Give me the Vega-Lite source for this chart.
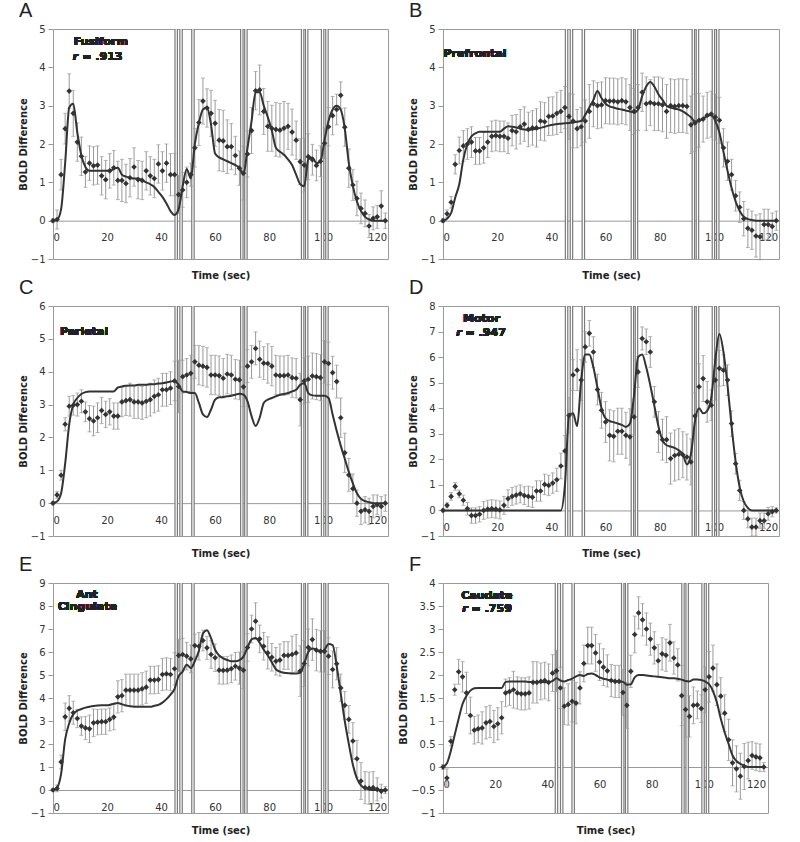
{
"$schema":"https://vega.github.io/schema/vega-lite/v6.json",
"padding":{"left":17,"top":0,"right":5,"bottom":5},
"background":"white",
"config":{
 "view":{"stroke":"#9a9a9a","strokeWidth":1},
 "font":"DejaVu Sans",
 "axis":{"labelFont":"DejaVu Sans","labelFontSize":10,"labelColor":"#333","labelOverlap":false,"titleFont":"DejaVu Sans","titleFontSize":10,"titleFontWeight":"bold","titleColor":"#222","domainColor":"#9a9a9a","tickColor":"#9a9a9a","grid":false},
 "axisY":{"labelOverlap":false,"labelBound":false,"tickCount":20},
 "title":{"font":"Liberation Sans","fontSize":20,"fontWeight":"normal","anchor":"start","frame":"group","dx":-34,"offset":3,"baseline":"alphabetic","color":"#222"}
},
"spacing":{"column":8,"row":-5},
"columns":2,
"datasets":{
"ev":[{"t":45.6},{"t":47.4},{"t":51.8},{"t":69.9},{"t":71.4},{"t":92.4},{"t":93.9},{"t":99.8},{"t":101.4}],
"evF":[{"t":43.5},{"t":45.5},{"t":49.9},{"t":68.9},{"t":70.4},{"t":92.0},{"t":93.6},{"t":99.7},{"t":101.4}],
"A":[
{"t":0,"y":0,"e":0.05,"m":0},{"t":1.5,"y":0.03,"e":0.25,"m":0.02},{"t":3,"y":1.2,"e":0.4,"m":0.3},{"t":4.5,"y":2.4,"e":0.4,"m":1.5},{"t":6,"y":3.38,"e":0.45,"m":2.95},{"t":7.5,"y":2.8,"e":0.6,"m":3.05},{"t":9,"y":2.05,"e":0.5,"m":2.3},{"t":10.5,"y":1.68,"e":0.5,"m":1.7},{"t":12,"y":1.27,"e":0.4,"m":1.4},{"t":13.5,"y":1.5,"e":0.45,"m":1.3},
{"t":15,"y":1.43,"e":0.5,"m":1.3},{"t":16.5,"y":1.45,"e":0.5,"m":1.3},{"t":18,"y":1.17,"e":0.5,"m":1.3},{"t":19.5,"y":1.07,"e":0.5,"m":1.3},{"t":21,"y":1.3,"e":0.45,"m":1.3},{"t":22.5,"y":1.38,"e":0.45,"m":1.35},{"t":24,"y":1.05,"e":0.5,"m":1.38},{"t":25.5,"y":1.05,"e":0.55,"m":1.2},{"t":27,"y":0.97,"e":0.5,"m":1.15},{"t":28.5,"y":1.12,"e":0.5,"m":1.12},
{"t":30,"y":1.4,"e":0.5,"m":1.1},{"t":31.5,"y":1.07,"e":0.5,"m":1.1},{"t":33,"y":1.05,"e":0.5,"m":1.05},{"t":34.5,"y":1.3,"e":0.5,"m":1.0},{"t":36,"y":1.17,"e":0.5,"m":0.95},{"t":37.5,"y":1.1,"e":0.5,"m":0.88},{"t":39,"y":1.48,"e":0.5,"m":0.75},{"t":40.5,"y":1.3,"e":0.5,"m":0.62},{"t":42,"y":1.5,"e":0.5,"m":0.45},{"t":43.5,"y":1.2,"e":0.55,"m":0.25},
{"t":45,"y":1.2,"e":0.55,"m":0.15},{"t":46.5,"y":0.68,"e":0.5,"m":0.3},{"t":48,"y":0.8,"e":0.45,"m":0.9},{"t":49.5,"y":1.0,"e":0.4,"m":1.35},{"t":51,"y":1.2,"e":0.3,"m":1.1},{"t":52.5,"y":1.9,"e":0.5,"m":2.0},{"t":54,"y":2.56,"e":0.6,"m":2.55},{"t":55.5,"y":3.12,"e":0.6,"m":2.9},{"t":57,"y":2.94,"e":0.5,"m":2.95},{"t":58.5,"y":2.8,"e":0.6,"m":2.5},
{"t":60,"y":2.54,"e":0.6,"m":1.75},{"t":61.5,"y":2.1,"e":0.8,"m":1.65},{"t":63,"y":2.08,"e":0.8,"m":1.6},{"t":64.5,"y":1.93,"e":0.7,"m":1.55},{"t":66,"y":1.93,"e":0.6,"m":1.5},{"t":67.5,"y":1.7,"e":0.5,"m":1.45},{"t":69,"y":1.37,"e":0.45,"m":1.38},{"t":70.5,"y":1.24,"e":0.7,"m":1.2},{"t":72,"y":1.74,"e":0.6,"m":1.9},{"t":73.5,"y":2.35,"e":0.6,"m":2.6},
{"t":75,"y":3.39,"e":0.5,"m":3.35},{"t":76.5,"y":3.41,"e":0.65,"m":3.35},{"t":78,"y":2.85,"e":0.6,"m":3.0},{"t":79.5,"y":2.46,"e":0.65,"m":2.7},{"t":81,"y":2.41,"e":0.6,"m":2.35},{"t":82.5,"y":2.38,"e":0.7,"m":1.9},{"t":84,"y":2.36,"e":0.7,"m":1.8},{"t":85.5,"y":2.41,"e":0.7,"m":1.72},{"t":87,"y":2.46,"e":0.6,"m":1.6},{"t":88.5,"y":2.31,"e":0.6,"m":1.45},
{"t":90,"y":2.1,"e":0.5,"m":1.2},{"t":91.5,"y":1.54,"e":0.6,"m":0.95},{"t":93,"y":1.45,"e":0.7,"m":0.9},{"t":94.5,"y":1.67,"e":0.6,"m":1.6},{"t":96,"y":1.59,"e":0.4,"m":1.65},{"t":97.5,"y":1.44,"e":0.4,"m":1.5},{"t":99,"y":1.55,"e":0.4,"m":1.55},{"t":100.5,"y":2.02,"e":0.4,"m":2.1},{"t":102,"y":2.45,"e":0.5,"m":2.6},{"t":103.5,"y":2.74,"e":0.5,"m":2.9},
{"t":105,"y":2.9,"e":0.4,"m":3.0},{"t":106.5,"y":3.27,"e":0.35,"m":2.9},{"t":108,"y":2.44,"e":0.5,"m":2.4},{"t":109.5,"y":1.37,"e":0.5,"m":1.5},{"t":111,"y":0.93,"e":0.4,"m":0.9},{"t":112.5,"y":0.58,"e":0.45,"m":0.5},{"t":114,"y":0.32,"e":0.4,"m":0.25},{"t":115.5,"y":0.19,"e":0.35,"m":0.1},{"t":117,"y":-0.14,"e":0.3,"m":0.03},{"t":118.5,"y":0.06,"e":0.3,"m":0},
{"t":120,"y":0.1,"e":0.3,"m":0},{"t":121.5,"y":0.38,"e":0.4,"m":0},{"t":123,"y":0,"e":0.2,"m":0}],
"B":[
{"t":0,"y":0,"e":0.05,"m":0},{"t":1.5,"y":0.18,"e":0.1,"m":0.05},{"t":3,"y":0.48,"e":0.15,"m":0.2},{"t":4.5,"y":1.47,"e":0.25,"m":0.6},{"t":6,"y":1.83,"e":0.35,"m":0.95},{"t":7.5,"y":1.95,"e":0.4,"m":1.6},{"t":9,"y":2.0,"e":0.4,"m":2.0},{"t":10.5,"y":2.05,"e":0.4,"m":2.2},{"t":12,"y":1.82,"e":0.35,"m":2.28},{"t":13.5,"y":1.82,"e":0.35,"m":2.32},
{"t":15,"y":1.9,"e":0.4,"m":2.32},{"t":16.5,"y":2.05,"e":0.4,"m":2.32},{"t":18,"y":2.2,"e":0.4,"m":2.32},{"t":19.5,"y":2.22,"e":0.4,"m":2.32},{"t":21,"y":2.2,"e":0.4,"m":2.32},{"t":22.5,"y":2.2,"e":0.4,"m":2.4},{"t":24,"y":2.15,"e":0.4,"m":2.46},{"t":25.5,"y":2.35,"e":0.4,"m":2.45},{"t":27,"y":2.32,"e":0.45,"m":2.43},{"t":28.5,"y":2.45,"e":0.45,"m":2.4},
{"t":30,"y":2.52,"e":0.45,"m":2.38},{"t":31.5,"y":2.38,"e":0.45,"m":2.37},{"t":33,"y":2.42,"e":0.45,"m":2.38},{"t":34.5,"y":2.42,"e":0.5,"m":2.4},{"t":36,"y":2.6,"e":0.5,"m":2.42},{"t":37.5,"y":2.58,"e":0.5,"m":2.45},{"t":39,"y":2.72,"e":0.5,"m":2.48},{"t":40.5,"y":2.73,"e":0.5,"m":2.5},{"t":42,"y":2.8,"e":0.55,"m":2.52},{"t":43.5,"y":2.85,"e":0.55,"m":2.53},
{"t":45,"y":2.95,"e":0.55,"m":2.54},{"t":46.5,"y":2.72,"e":0.6,"m":2.55},{"t":48,"y":2.6,"e":0.7,"m":2.56},{"t":49.5,"y":2.4,"e":0.5,"m":2.58},{"t":51,"y":2.45,"e":0.5,"m":2.6},{"t":52.5,"y":2.6,"e":0.55,"m":2.76},{"t":54,"y":2.85,"e":0.7,"m":2.95},{"t":55.5,"y":3.05,"e":0.6,"m":3.15},{"t":57,"y":3.0,"e":0.6,"m":3.38},{"t":58.5,"y":3.02,"e":0.6,"m":3.2},
{"t":60,"y":3.13,"e":0.6,"m":3.05},{"t":61.5,"y":3.12,"e":0.6,"m":2.98},{"t":63,"y":3.12,"e":0.6,"m":2.95},{"t":64.5,"y":3.1,"e":0.6,"m":2.92},{"t":66,"y":3.13,"e":0.6,"m":2.9},{"t":67.5,"y":3.1,"e":0.6,"m":2.87},{"t":69,"y":2.95,"e":0.6,"m":2.85},{"t":70.5,"y":2.85,"e":0.6,"m":2.82},{"t":72,"y":2.95,"e":0.6,"m":2.9},{"t":73.5,"y":3.35,"e":0.5,"m":3.25},
{"t":75,"y":3.05,"e":0.7,"m":3.5},{"t":76.5,"y":3.08,"e":0.6,"m":3.62},{"t":78,"y":3.05,"e":0.7,"m":3.5},{"t":79.5,"y":3.05,"e":0.7,"m":3.3},{"t":81,"y":3.02,"e":0.7,"m":3.15},{"t":82.5,"y":2.85,"e":0.7,"m":3.0},{"t":84,"y":3.0,"e":0.7,"m":2.95},{"t":85.5,"y":2.98,"e":0.7,"m":2.92},{"t":87,"y":3.0,"e":0.7,"m":2.9},{"t":88.5,"y":3.0,"e":0.7,"m":2.85},
{"t":90,"y":2.98,"e":0.7,"m":2.78},{"t":91.5,"y":2.5,"e":0.75,"m":2.7},{"t":93,"y":2.55,"e":0.75,"m":2.58},{"t":94.5,"y":2.62,"e":0.7,"m":2.6},{"t":96,"y":2.65,"e":0.6,"m":2.67},{"t":97.5,"y":2.75,"e":0.6,"m":2.72},{"t":99,"y":2.78,"e":0.6,"m":2.76},{"t":100.5,"y":2.7,"e":0.6,"m":2.6},{"t":102,"y":2.62,"e":0.6,"m":2.3},{"t":103.5,"y":1.9,"e":0.5,"m":1.8},
{"t":105,"y":1.55,"e":0.5,"m":1.3},{"t":106.5,"y":1.2,"e":0.4,"m":0.85},{"t":108,"y":0.65,"e":0.4,"m":0.5},{"t":109.5,"y":0.35,"e":0.4,"m":0.25},{"t":111,"y":0.05,"e":0.45,"m":0.1},{"t":112.5,"y":-0.2,"e":0.5,"m":0.04},{"t":114,"y":-0.25,"e":0.5,"m":0.02},{"t":115.5,"y":-0.4,"e":0.55,"m":0},{"t":117,"y":-0.42,"e":0.6,"m":0},{"t":118.5,"y":-0.1,"e":0.4,"m":0},
{"t":120,"y":-0.1,"e":0.4,"m":0},{"t":121.5,"y":-0.15,"e":0.35,"m":0},{"t":123,"y":0,"e":0.25,"m":0}],
"C":[
{"t":0,"y":0,"e":0.05,"m":0},{"t":1.5,"y":0.25,"e":0.1,"m":0.05},{"t":3,"y":0.85,"e":0.15,"m":0.3},{"t":4.5,"y":2.4,"e":0.2,"m":1.2},{"t":6,"y":2.95,"e":0.3,"m":2.4},{"t":7.5,"y":2.98,"e":0.3,"m":3.0},{"t":9,"y":3.0,"e":0.35,"m":3.2},{"t":10.5,"y":3.1,"e":0.35,"m":3.32},{"t":12,"y":2.78,"e":0.3,"m":3.38},{"t":13.5,"y":2.57,"e":0.4,"m":3.4},
{"t":15,"y":2.5,"e":0.45,"m":3.4},{"t":16.5,"y":2.6,"e":0.45,"m":3.4},{"t":18,"y":2.82,"e":0.4,"m":3.4},{"t":19.5,"y":2.7,"e":0.4,"m":3.4},{"t":21,"y":2.78,"e":0.4,"m":3.4},{"t":22.5,"y":2.65,"e":0.4,"m":3.4},{"t":24,"y":2.65,"e":0.4,"m":3.52},{"t":25.5,"y":3.08,"e":0.45,"m":3.55},{"t":27,"y":3.12,"e":0.45,"m":3.57},{"t":28.5,"y":3.15,"e":0.5,"m":3.58},
{"t":30,"y":3.08,"e":0.5,"m":3.58},{"t":31.5,"y":3.08,"e":0.5,"m":3.6},{"t":33,"y":3.05,"e":0.5,"m":3.6},{"t":34.5,"y":3.1,"e":0.5,"m":3.6},{"t":36,"y":3.15,"e":0.5,"m":3.62},{"t":37.5,"y":3.25,"e":0.5,"m":3.62},{"t":39,"y":3.3,"e":0.5,"m":3.64},{"t":40.5,"y":3.45,"e":0.5,"m":3.65},{"t":42,"y":3.45,"e":0.5,"m":3.67},{"t":43.5,"y":3.5,"e":0.5,"m":3.7},
{"t":45,"y":3.72,"e":0.6,"m":3.72},{"t":46.5,"y":3.55,"e":0.8,"m":3.6},{"t":48,"y":3.85,"e":0.5,"m":3.4},{"t":49.5,"y":3.9,"e":0.5,"m":3.38},{"t":51,"y":3.95,"e":0.55,"m":3.35},{"t":52.5,"y":4.3,"e":0.5,"m":3.35},{"t":54,"y":4.2,"e":0.6,"m":3.05},{"t":55.5,"y":4.17,"e":0.6,"m":2.7},{"t":57,"y":4.13,"e":0.6,"m":2.62},{"t":58.5,"y":3.9,"e":0.6,"m":2.85},
{"t":60,"y":3.9,"e":0.6,"m":3.15},{"t":61.5,"y":3.88,"e":0.6,"m":3.22},{"t":63,"y":3.8,"e":0.6,"m":3.23},{"t":64.5,"y":3.93,"e":0.6,"m":3.25},{"t":66,"y":3.9,"e":0.6,"m":3.27},{"t":67.5,"y":3.77,"e":0.6,"m":3.3},{"t":69,"y":3.75,"e":0.6,"m":3.33},{"t":70.5,"y":3.54,"e":0.6,"m":3.3},{"t":72,"y":4.17,"e":0.5,"m":3.1},{"t":73.5,"y":4.3,"e":0.5,"m":2.65},
{"t":75,"y":4.71,"e":0.5,"m":2.35},{"t":76.5,"y":4.38,"e":0.55,"m":2.6},{"t":78,"y":4.26,"e":0.5,"m":3.05},{"t":79.5,"y":4.25,"e":0.6,"m":3.15},{"t":81,"y":4.17,"e":0.6,"m":3.2},{"t":82.5,"y":3.9,"e":0.6,"m":3.25},{"t":84,"y":3.88,"e":0.6,"m":3.3},{"t":85.5,"y":3.88,"e":0.6,"m":3.32},{"t":87,"y":3.9,"e":0.6,"m":3.35},{"t":88.5,"y":3.82,"e":0.6,"m":3.4},
{"t":90,"y":3.8,"e":0.6,"m":3.45},{"t":91.5,"y":3.15,"e":0.8,"m":3.6},{"t":93,"y":3.72,"e":0.7,"m":3.65},{"t":94.5,"y":3.77,"e":0.7,"m":3.35},{"t":96,"y":3.87,"e":0.7,"m":3.28},{"t":97.5,"y":3.85,"e":0.7,"m":3.27},{"t":99,"y":3.82,"e":0.7,"m":3.27},{"t":100.5,"y":4.3,"e":0.65,"m":3.27},{"t":102,"y":4.25,"e":0.65,"m":3.2},{"t":103.5,"y":3.97,"e":0.5,"m":2.7},
{"t":105,"y":3.7,"e":0.5,"m":2.2},{"t":106.5,"y":2.6,"e":0.6,"m":1.75},{"t":108,"y":1.53,"e":0.6,"m":1.35},{"t":109.5,"y":0.86,"e":0.5,"m":0.95},{"t":111,"y":0.44,"e":0.45,"m":0.6},{"t":112.5,"y":0,"e":0.4,"m":0.3},{"t":114,"y":-0.25,"e":0.4,"m":0.13},{"t":115.5,"y":-0.2,"e":0.4,"m":0.06},{"t":117,"y":-0.25,"e":0.4,"m":0.03},{"t":118.5,"y":-0.1,"e":0.35,"m":0},
{"t":120,"y":-0.05,"e":0.3,"m":0},{"t":121.5,"y":-0.1,"e":0.3,"m":0},{"t":123,"y":0,"e":0.25,"m":0}],
"D":[
{"t":0,"y":0,"e":0.05,"m":0},{"t":1.5,"y":0.2,"e":0.1,"m":0},{"t":3,"y":0.55,"e":0.15,"m":0},{"t":4.5,"y":0.94,"e":0.15,"m":0},{"t":6,"y":0.65,"e":0.15,"m":0},{"t":7.5,"y":0.4,"e":0.2,"m":0},{"t":9,"y":0.07,"e":0.25,"m":0},{"t":10.5,"y":-0.2,"e":0.3,"m":0},{"t":12,"y":-0.2,"e":0.3,"m":0},{"t":13.5,"y":-0.15,"e":0.3,"m":0},
{"t":15,"y":0,"e":0.35,"m":0},{"t":16.5,"y":0.05,"e":0.35,"m":0},{"t":18,"y":0.07,"e":0.35,"m":0},{"t":19.5,"y":0.05,"e":0.35,"m":0},{"t":21,"y":0.02,"e":0.35,"m":0},{"t":22.5,"y":0.2,"e":0.35,"m":0},{"t":24,"y":0.46,"e":0.35,"m":0},{"t":25.5,"y":0.55,"e":0.35,"m":0},{"t":27,"y":0.6,"e":0.35,"m":0},{"t":28.5,"y":0.65,"e":0.35,"m":0},
{"t":30,"y":0.58,"e":0.35,"m":0},{"t":31.5,"y":0.55,"e":0.4,"m":0},{"t":33,"y":0.52,"e":0.4,"m":0},{"t":34.5,"y":0.76,"e":0.4,"m":0},{"t":36,"y":0.76,"e":0.4,"m":0},{"t":37.5,"y":1.02,"e":0.4,"m":0},{"t":39,"y":0.98,"e":0.4,"m":0},{"t":40.5,"y":1.07,"e":0.4,"m":0},{"t":42,"y":1.2,"e":0.45,"m":0},{"t":43.5,"y":1.74,"e":0.5,"m":0},
{"t":45,"y":2.33,"e":0.6,"m":1.0},{"t":46.5,"y":3.72,"e":0.7,"m":3.7},{"t":48,"y":5.3,"e":0.6,"m":3.8},{"t":49.5,"y":5.49,"e":0.8,"m":3.3},{"t":51,"y":5.1,"e":0.8,"m":5.1},{"t":52.5,"y":6.4,"e":0.6,"m":6.1},{"t":54,"y":6.93,"e":0.5,"m":6.1},{"t":55.5,"y":6.2,"e":0.6,"m":5.6},{"t":57,"y":4.73,"e":0.6,"m":4.8},{"t":58.5,"y":3.92,"e":0.7,"m":4.0},
{"t":60,"y":3.46,"e":0.8,"m":3.6},{"t":61.5,"y":2.94,"e":1.0,"m":3.5},{"t":63,"y":2.9,"e":1.0,"m":3.45},{"t":64.5,"y":3.1,"e":0.9,"m":3.4},{"t":66,"y":3.1,"e":0.9,"m":3.35},{"t":67.5,"y":2.94,"e":0.9,"m":3.27},{"t":69,"y":2.88,"e":1.1,"m":3.4},{"t":70.5,"y":3.66,"e":0.7,"m":4.5},{"t":72,"y":5.42,"e":0.6,"m":6.0},{"t":73.5,"y":6.73,"e":0.45,"m":6.1},
{"t":75,"y":6.6,"e":0.5,"m":5.6},{"t":76.5,"y":6.2,"e":0.6,"m":4.9},{"t":78,"y":4.25,"e":0.6,"m":4.1},{"t":79.5,"y":3.07,"e":0.8,"m":3.3},{"t":81,"y":2.77,"e":0.8,"m":2.75},{"t":82.5,"y":2.77,"e":0.9,"m":2.55},{"t":84,"y":2.03,"e":1.0,"m":2.5},{"t":85.5,"y":2.15,"e":1.0,"m":2.45},{"t":87,"y":2.2,"e":1.0,"m":2.35},{"t":88.5,"y":2.18,"e":0.9,"m":2.2},
{"t":90,"y":2.09,"e":0.9,"m":1.8},{"t":91.5,"y":1.9,"e":0.9,"m":2.2},{"t":93,"y":3.7,"e":0.9,"m":3.5},{"t":94.5,"y":4.84,"e":0.9,"m":4.0},{"t":96,"y":5.16,"e":0.9,"m":3.8},{"t":97.5,"y":4.25,"e":0.8,"m":3.9},{"t":99,"y":4.12,"e":0.6,"m":4.4},{"t":100.5,"y":5.1,"e":0.8,"m":5.9},{"t":102,"y":5.56,"e":0.7,"m":6.9},{"t":103.5,"y":5.49,"e":0.6,"m":6.2},
{"t":105,"y":5.1,"e":0.6,"m":4.9},{"t":106.5,"y":3.4,"e":0.5,"m":3.3},{"t":108,"y":1.83,"e":0.4,"m":1.9},{"t":109.5,"y":0.78,"e":0.4,"m":0.9},{"t":111,"y":0,"e":0.35,"m":0.35},{"t":112.5,"y":-0.33,"e":0.35,"m":0.1},{"t":114,"y":-0.65,"e":0.35,"m":0},{"t":115.5,"y":-0.65,"e":0.35,"m":0},{"t":117,"y":-0.4,"e":0.3,"m":0},{"t":118.5,"y":-0.4,"e":0.3,"m":0},
{"t":120,"y":-0.13,"e":0.25,"m":0},{"t":121.5,"y":-0.05,"e":0.2,"m":0},{"t":123,"y":0,"e":0.1,"m":0}],
"E":[
{"t":0,"y":0,"e":0.05,"m":0},{"t":1.5,"y":0.07,"e":0.15,"m":0.1},{"t":3,"y":1.22,"e":0.3,"m":0.7},{"t":4.5,"y":3.18,"e":0.6,"m":2.2},{"t":6,"y":3.55,"e":0.55,"m":2.9},{"t":7.5,"y":3.36,"e":0.5,"m":3.3},{"t":9,"y":3.11,"e":0.4,"m":3.45},{"t":10.5,"y":2.78,"e":0.4,"m":3.52},{"t":12,"y":2.7,"e":0.5,"m":3.58},{"t":13.5,"y":2.66,"e":0.6,"m":3.62},
{"t":15,"y":2.92,"e":0.6,"m":3.65},{"t":16.5,"y":2.95,"e":0.55,"m":3.67},{"t":18,"y":2.97,"e":0.55,"m":3.68},{"t":19.5,"y":2.97,"e":0.55,"m":3.68},{"t":21,"y":3.07,"e":0.5,"m":3.7},{"t":22.5,"y":3.17,"e":0.55,"m":3.75},{"t":24,"y":4.05,"e":0.7,"m":3.78},{"t":25.5,"y":4.1,"e":0.7,"m":3.73},{"t":27,"y":4.34,"e":0.7,"m":3.68},{"t":28.5,"y":4.34,"e":0.7,"m":3.64},
{"t":30,"y":4.34,"e":0.7,"m":3.62},{"t":31.5,"y":4.34,"e":0.7,"m":3.62},{"t":33,"y":4.4,"e":0.7,"m":3.62},{"t":34.5,"y":4.47,"e":0.7,"m":3.62},{"t":36,"y":4.78,"e":0.6,"m":3.62},{"t":37.5,"y":4.78,"e":0.6,"m":3.66},{"t":39,"y":4.8,"e":0.6,"m":3.7},{"t":40.5,"y":5.02,"e":0.7,"m":3.8},{"t":42,"y":5.05,"e":0.7,"m":3.95},{"t":43.5,"y":5.02,"e":0.7,"m":4.15},
{"t":45,"y":5.27,"e":0.7,"m":4.4},{"t":46.5,"y":5.85,"e":0.7,"m":4.95},{"t":48,"y":5.89,"e":0.7,"m":5.15},{"t":49.5,"y":5.82,"e":0.6,"m":5.45},{"t":51,"y":5.7,"e":0.6,"m":5.3},{"t":52.5,"y":6.28,"e":0.5,"m":5.6},{"t":54,"y":6.25,"e":0.6,"m":6.05},{"t":55.5,"y":6.5,"e":0.45,"m":6.8},{"t":57,"y":6.18,"e":0.5,"m":6.95},{"t":58.5,"y":5.89,"e":0.6,"m":6.6},
{"t":60,"y":5.75,"e":0.6,"m":6.1},{"t":61.5,"y":5.21,"e":0.6,"m":5.85},{"t":63,"y":5.2,"e":0.6,"m":5.72},{"t":64.5,"y":5.21,"e":0.6,"m":5.65},{"t":66,"y":5.27,"e":0.6,"m":5.6},{"t":67.5,"y":5.38,"e":0.6,"m":5.6},{"t":69,"y":5.3,"e":0.7,"m":5.65},{"t":70.5,"y":5.21,"e":0.8,"m":5.8},{"t":72,"y":6.2,"e":0.6,"m":6.2},{"t":73.5,"y":7.0,"e":0.6,"m":6.55},
{"t":75,"y":7.34,"e":0.8,"m":6.61},{"t":76.5,"y":6.57,"e":0.6,"m":6.4},{"t":78,"y":6.25,"e":0.6,"m":6.1},{"t":79.5,"y":5.96,"e":0.7,"m":5.85},{"t":81,"y":5.77,"e":0.6,"m":5.55},{"t":82.5,"y":5.6,"e":0.6,"m":5.25},{"t":84,"y":5.65,"e":0.7,"m":5.15},{"t":85.5,"y":5.85,"e":0.6,"m":5.1},{"t":87,"y":5.85,"e":0.6,"m":5.08},{"t":88.5,"y":5.89,"e":0.8,"m":5.06},
{"t":90,"y":5.96,"e":0.8,"m":5.06},{"t":91.5,"y":5.17,"e":1.1,"m":5.1},{"t":93,"y":5.5,"e":1.0,"m":5.5},{"t":94.5,"y":6.2,"e":0.8,"m":6.0},{"t":96,"y":6.54,"e":0.9,"m":6.15},{"t":97.5,"y":6.08,"e":0.9,"m":6.1},{"t":99,"y":6.03,"e":0.9,"m":6.0},{"t":100.5,"y":6.03,"e":0.9,"m":6.1},{"t":102,"y":5.82,"e":0.8,"m":6.35},{"t":103.5,"y":5.24,"e":0.8,"m":6.3},
{"t":105,"y":5.49,"e":0.7,"m":5.4},{"t":106.5,"y":4.44,"e":0.6,"m":4.2},{"t":108,"y":3.68,"e":0.6,"m":3.0},{"t":109.5,"y":3.07,"e":0.6,"m":2.0},{"t":111,"y":2.13,"e":0.8,"m":1.1},{"t":112.5,"y":1.36,"e":0.8,"m":0.5},{"t":114,"y":0.39,"e":0.8,"m":0.2},{"t":115.5,"y":0.1,"e":0.7,"m":0.08},{"t":117,"y":0.08,"e":0.7,"m":0.03},{"t":118.5,"y":0.1,"e":0.7,"m":0},
{"t":120,"y":0.03,"e":0.5,"m":0},{"t":121.5,"y":-0.05,"e":0.3,"m":0},{"t":123,"y":0,"e":0.15,"m":0}],
"F":[
{"t":0,"y":0,"e":0.05,"m":0},{"t":1.5,"y":-0.24,"e":0.2,"m":0.08},{"t":3,"y":0.56,"e":0.1,"m":0.35},{"t":4.5,"y":1.68,"e":0.12,"m":0.7},{"t":6,"y":2.07,"e":0.27,"m":1.05},{"t":7.5,"y":1.96,"e":0.33,"m":1.37},{"t":9,"y":1.61,"e":0.45,"m":1.55},{"t":10.5,"y":1.12,"e":0.4,"m":1.66},{"t":12,"y":0.8,"e":0.3,"m":1.71},{"t":13.5,"y":0.83,"e":0.3,"m":1.72},
{"t":15,"y":0.85,"e":0.35,"m":1.72},{"t":16.5,"y":0.96,"e":0.35,"m":1.72},{"t":18,"y":0.99,"e":0.35,"m":1.72},{"t":19.5,"y":0.88,"e":0.35,"m":1.72},{"t":21,"y":0.94,"e":0.35,"m":1.72},{"t":22.5,"y":1.07,"e":0.35,"m":1.72},{"t":24,"y":1.61,"e":0.3,"m":1.85},{"t":25.5,"y":1.64,"e":0.3,"m":1.86},{"t":27,"y":1.68,"e":0.4,"m":1.86},{"t":28.5,"y":1.61,"e":0.35,"m":1.86},
{"t":30,"y":1.59,"e":0.35,"m":1.86},{"t":31.5,"y":1.59,"e":0.35,"m":1.86},{"t":33,"y":1.61,"e":0.35,"m":1.85},{"t":34.5,"y":1.84,"e":0.45,"m":1.85},{"t":36,"y":1.84,"e":0.45,"m":1.85},{"t":37.5,"y":1.86,"e":0.4,"m":1.85},{"t":39,"y":1.88,"e":0.4,"m":1.84},{"t":40.5,"y":1.84,"e":0.4,"m":1.84},{"t":42,"y":2.04,"e":0.4,"m":1.87},{"t":43.5,"y":2.09,"e":0.45,"m":1.93},
{"t":45,"y":1.72,"e":0.45,"m":1.88},{"t":46.5,"y":1.32,"e":0.4,"m":1.86},{"t":48,"y":1.36,"e":0.45,"m":1.89},{"t":49.5,"y":1.43,"e":0.45,"m":1.92},{"t":51,"y":1.39,"e":0.45,"m":1.97},{"t":52.5,"y":1.72,"e":0.35,"m":2.0},{"t":54,"y":2.25,"e":0.4,"m":1.98},{"t":55.5,"y":2.64,"e":0.4,"m":2.02},{"t":57,"y":2.64,"e":0.4,"m":2.03},{"t":58.5,"y":2.48,"e":0.4,"m":2.0},
{"t":60,"y":2.28,"e":0.4,"m":1.95},{"t":61.5,"y":2.17,"e":0.4,"m":1.92},{"t":63,"y":2.09,"e":0.35,"m":1.9},{"t":64.5,"y":1.88,"e":0.35,"m":1.88},{"t":66,"y":1.86,"e":0.35,"m":1.87},{"t":67.5,"y":1.86,"e":0.35,"m":1.86},{"t":69,"y":1.62,"e":0.5,"m":1.85},{"t":70.5,"y":1.34,"e":0.5,"m":1.79},{"t":72,"y":2.08,"e":0.35,"m":1.8},{"t":73.5,"y":2.88,"e":0.4,"m":1.95},
{"t":75,"y":3.35,"e":0.35,"m":2.0},{"t":76.5,"y":3.2,"e":0.35,"m":2.0},{"t":78,"y":3.0,"e":0.35,"m":1.99},{"t":79.5,"y":2.78,"e":0.35,"m":1.98},{"t":81,"y":2.59,"e":0.35,"m":1.97},{"t":82.5,"y":2.31,"e":0.35,"m":1.96},{"t":84,"y":2.46,"e":0.35,"m":1.95},{"t":85.5,"y":2.43,"e":0.35,"m":1.94},{"t":87,"y":2.7,"e":0.4,"m":1.93},{"t":88.5,"y":2.37,"e":0.35,"m":1.93},
{"t":90,"y":2.22,"e":0.35,"m":1.92},{"t":91.5,"y":1.55,"e":0.65,"m":1.9},{"t":93,"y":1.25,"e":0.6,"m":1.87},{"t":94.5,"y":1.1,"e":0.45,"m":1.86},{"t":96,"y":1.34,"e":0.4,"m":1.9},{"t":97.5,"y":1.35,"e":0.3,"m":1.9},{"t":99,"y":1.27,"e":0.3,"m":1.89},{"t":100.5,"y":1.68,"e":0.5,"m":1.86},{"t":102,"y":1.96,"e":0.55,"m":1.8},{"t":103.5,"y":2.15,"e":0.5,"m":1.65},
{"t":105,"y":1.79,"e":0.45,"m":1.4},{"t":106.5,"y":1.54,"e":0.4,"m":1.05},{"t":108,"y":1.17,"e":0.4,"m":0.75},{"t":109.5,"y":0.59,"e":0.45,"m":0.5},{"t":111,"y":0.09,"e":0.5,"m":0.25},{"t":112.5,"y":-0.04,"e":0.5,"m":0.13},{"t":114,"y":-0.2,"e":0.5,"m":0.07},{"t":115.5,"y":0.01,"e":0.5,"m":0.03},{"t":117,"y":0.14,"e":0.4,"m":0},{"t":118.5,"y":0.25,"e":0.3,"m":0},
{"t":120,"y":0.22,"e":0.3,"m":0},{"t":121.5,"y":0.2,"e":0.3,"m":0},{"t":123,"y":0,"e":0.1,"m":0}]
},
"concat":[
{"width":335,"height":230,"title":{"text":"A"},"data":{"name":"A"},
 "encoding":{"x":{"field":"t","type":"quantitative","scale":{"domain":[0,124],"nice":false},"axis":{"values":[0,20,40,60,80,100,120],"format":"d","offset":-38.33,"ticks":false,"tickSize":0,"labelPadding":12,"title":"Time (sec)","titleY":50,"tickCount":20}}},
 "layer":[
  {"data":{"name":"ev"},"mark":{"type":"rule","color":"#7a7a7a","strokeWidth":3.6},"encoding":{}},
  {"data":{"name":"ev"},"mark":{"type":"rule","color":"#ffffff","strokeWidth":1.2},"encoding":{}},
  {"mark":{"type":"errorbar","color":"#999999","thickness":1,"ticks":{"size":4}},"encoding":{"y":{"field":"y","type":"quantitative","title":"BOLD Difference","scale":{"domain":[-1,5],"nice":false,"zero":false},"axis":{"values":[-1,0,1,2,3,4,5],"format":"~g","domain":false,"ticks":true,"tickSize":5,"labelPadding":3,"titlePadding":2,"labelOverlap":false,"tickCount":20}},"yError":{"field":"e"}}},
  {"mark":{"type":"line","color":"#333333","strokeWidth":2,"interpolate":"monotone"},"encoding":{"y":{"field":"m","type":"quantitative","title":"BOLD Difference","axis":{"values":[-1,0,1,2,3,4,5],"format":"~g","domain":false,"ticks":true,"tickSize":5,"labelPadding":3,"titlePadding":2,"labelOverlap":false,"tickCount":20}}}},
  {"mark":{"type":"point","shape":"diamond","filled":true,"size":32,"color":"#333333","opacity":1},"encoding":{"y":{"field":"y","type":"quantitative","title":"BOLD Difference","axis":{"values":[-1,0,1,2,3,4,5],"format":"~g","domain":false,"ticks":true,"tickSize":5,"labelPadding":3,"titlePadding":2,"labelOverlap":false,"tickCount":20}}}},
  {"mark":{"type":"text","text":"Fusiform","fontWeight":"bold","fontSize":11,"color":"#222"},"encoding":{"x":{"datum":17.7},"y":{"datum":4.66}}},
  {"mark":{"type":"text","text":"r","fontStyle":"italic","fontWeight":"bold","fontSize":11,"align":"right","dx":-2,"color":"#222"},"encoding":{"x":{"datum":10.1},"y":{"datum":4.27}}},
  {"mark":{"type":"text","text":"= .913","fontWeight":"bold","fontSize":11,"align":"left","dx":2,"color":"#222"},"encoding":{"x":{"datum":10.1},"y":{"datum":4.27}}}
 ]},
{"width":336,"height":230,"title":{"text":"B"},"data":{"name":"B"},
 "encoding":{"x":{"field":"t","type":"quantitative","scale":{"domain":[0,124],"nice":false},"axis":{"values":[0,20,40,60,80,100,120],"format":"d","offset":-38.33,"ticks":false,"tickSize":0,"labelPadding":12,"title":"Time (sec)","titleY":50,"tickCount":20}}},
 "layer":[
  {"data":{"name":"ev"},"mark":{"type":"rule","color":"#7a7a7a","strokeWidth":3.6},"encoding":{}},
  {"data":{"name":"ev"},"mark":{"type":"rule","color":"#ffffff","strokeWidth":1.2},"encoding":{}},
  {"mark":{"type":"errorbar","color":"#999999","thickness":1,"ticks":{"size":4}},"encoding":{"y":{"field":"y","type":"quantitative","title":"BOLD Difference","scale":{"domain":[-1,5],"nice":false,"zero":false},"axis":{"values":[-1,0,1,2,3,4,5],"format":"~g","domain":false,"ticks":true,"tickSize":5,"labelPadding":3,"titlePadding":2,"labelOverlap":false,"tickCount":20}},"yError":{"field":"e"}}},
  {"mark":{"type":"line","color":"#333333","strokeWidth":2,"interpolate":"monotone"},"encoding":{"y":{"field":"m","type":"quantitative","title":"BOLD Difference","axis":{"values":[-1,0,1,2,3,4,5],"format":"~g","domain":false,"ticks":true,"tickSize":5,"labelPadding":3,"titlePadding":2,"labelOverlap":false,"tickCount":20}}}},
  {"mark":{"type":"point","shape":"diamond","filled":true,"size":32,"color":"#333333","opacity":1},"encoding":{"y":{"field":"y","type":"quantitative","title":"BOLD Difference","axis":{"values":[-1,0,1,2,3,4,5],"format":"~g","domain":false,"ticks":true,"tickSize":5,"labelPadding":3,"titlePadding":2,"labelOverlap":false,"tickCount":20}}}},
  {"mark":{"type":"text","text":"Prefrontal","fontWeight":"bold","fontSize":11,"color":"#222"},"encoding":{"x":{"datum":11.8},"y":{"datum":4.36}}}
 ]},
{"width":335,"height":230,"title":{"text":"C"},"data":{"name":"C"},
 "encoding":{"x":{"field":"t","type":"quantitative","scale":{"domain":[0,124],"nice":false},"axis":{"values":[0,20,40,60,80,100,120],"format":"d","offset":-32.86,"ticks":false,"tickSize":0,"labelPadding":12,"title":"Time (sec)","titleY":45,"tickCount":20}}},
 "layer":[
  {"data":{"name":"ev"},"mark":{"type":"rule","color":"#7a7a7a","strokeWidth":3.6},"encoding":{}},
  {"data":{"name":"ev"},"mark":{"type":"rule","color":"#ffffff","strokeWidth":1.2},"encoding":{}},
  {"mark":{"type":"errorbar","color":"#999999","thickness":1,"ticks":{"size":4}},"encoding":{"y":{"field":"y","type":"quantitative","title":"BOLD Difference","scale":{"domain":[-1,6],"nice":false,"zero":false},"axis":{"values":[-1,0,1,2,3,4,5,6],"format":"~g","domain":false,"ticks":true,"tickSize":5,"labelPadding":3,"titlePadding":2,"labelOverlap":false,"tickCount":20}},"yError":{"field":"e"}}},
  {"mark":{"type":"line","color":"#333333","strokeWidth":2,"interpolate":"monotone"},"encoding":{"y":{"field":"m","type":"quantitative","title":"BOLD Difference","axis":{"values":[-1,0,1,2,3,4,5,6],"format":"~g","domain":false,"ticks":true,"tickSize":5,"labelPadding":3,"titlePadding":2,"labelOverlap":false,"tickCount":20}}}},
  {"mark":{"type":"point","shape":"diamond","filled":true,"size":32,"color":"#333333","opacity":1},"encoding":{"y":{"field":"y","type":"quantitative","title":"BOLD Difference","axis":{"values":[-1,0,1,2,3,4,5,6],"format":"~g","domain":false,"ticks":true,"tickSize":5,"labelPadding":3,"titlePadding":2,"labelOverlap":false,"tickCount":20}}}},
  {"mark":{"type":"text","text":"Parietal","fontWeight":"bold","fontSize":11,"color":"#222"},"encoding":{"x":{"datum":11.5},"y":{"datum":5.22}}}
 ]},
{"width":336,"height":230,"title":{"text":"D"},"data":{"name":"D"},
 "encoding":{"x":{"field":"t","type":"quantitative","scale":{"domain":[0,124],"nice":false},"axis":{"values":[0,20,40,60,80,100,120],"format":"d","offset":-25.56,"ticks":false,"tickSize":0,"labelPadding":12,"title":"Time (sec)","titleY":37.6,"tickCount":20}}},
 "layer":[
  {"data":{"name":"ev"},"mark":{"type":"rule","color":"#7a7a7a","strokeWidth":3.6},"encoding":{}},
  {"data":{"name":"ev"},"mark":{"type":"rule","color":"#ffffff","strokeWidth":1.2},"encoding":{}},
  {"mark":{"type":"errorbar","color":"#999999","thickness":1,"ticks":{"size":4}},"encoding":{"y":{"field":"y","type":"quantitative","title":"BOLD Difference","scale":{"domain":[-1,8],"nice":false,"zero":false},"axis":{"values":[-1,0,1,2,3,4,5,6,7,8],"format":"~g","domain":false,"ticks":true,"tickSize":5,"labelPadding":3,"titlePadding":2,"labelOverlap":false,"tickCount":20}},"yError":{"field":"e"}}},
  {"mark":{"type":"line","color":"#333333","strokeWidth":2,"interpolate":"monotone"},"encoding":{"y":{"field":"m","type":"quantitative","title":"BOLD Difference","axis":{"values":[-1,0,1,2,3,4,5,6,7,8],"format":"~g","domain":false,"ticks":true,"tickSize":5,"labelPadding":3,"titlePadding":2,"labelOverlap":false,"tickCount":20}}}},
  {"mark":{"type":"point","shape":"diamond","filled":true,"size":32,"color":"#333333","opacity":1},"encoding":{"y":{"field":"y","type":"quantitative","title":"BOLD Difference","axis":{"values":[-1,0,1,2,3,4,5,6,7,8],"format":"~g","domain":false,"ticks":true,"tickSize":5,"labelPadding":3,"titlePadding":2,"labelOverlap":false,"tickCount":20}}}},
  {"mark":{"type":"text","text":"Motor","fontWeight":"bold","fontSize":11,"color":"#222"},"encoding":{"x":{"datum":14.2},"y":{"datum":7.5}}},
  {"mark":{"type":"text","text":"r","fontStyle":"italic","fontWeight":"bold","fontSize":11,"align":"right","dx":-2,"color":"#222"},"encoding":{"x":{"datum":7.6},"y":{"datum":6.95}}},
  {"mark":{"type":"text","text":"= .947","fontWeight":"bold","fontSize":11,"align":"left","dx":2,"color":"#222"},"encoding":{"x":{"datum":7.6},"y":{"datum":6.95}}}
 ]},
{"width":335,"height":230,"title":{"text":"E"},"data":{"name":"E"},
 "encoding":{"x":{"field":"t","type":"quantitative","scale":{"domain":[0,124],"nice":false},"axis":{"values":[0,20,40,60,80,100,120],"format":"d","offset":-23,"ticks":false,"tickSize":0,"labelPadding":12,"title":"Time (sec)","titleY":35,"tickCount":20}}},
 "layer":[
  {"data":{"name":"ev"},"mark":{"type":"rule","color":"#7a7a7a","strokeWidth":3.6},"encoding":{}},
  {"data":{"name":"ev"},"mark":{"type":"rule","color":"#ffffff","strokeWidth":1.2},"encoding":{}},
  {"mark":{"type":"errorbar","color":"#999999","thickness":1,"ticks":{"size":4}},"encoding":{"y":{"field":"y","type":"quantitative","title":"BOLD Difference","scale":{"domain":[-1,9],"nice":false,"zero":false},"axis":{"values":[-1,0,1,2,3,4,5,6,7,8,9],"format":"~g","domain":false,"ticks":true,"tickSize":5,"labelPadding":3,"titlePadding":2,"labelOverlap":false,"tickCount":20}},"yError":{"field":"e"}}},
  {"mark":{"type":"line","color":"#333333","strokeWidth":2,"interpolate":"monotone"},"encoding":{"y":{"field":"m","type":"quantitative","title":"BOLD Difference","axis":{"values":[-1,0,1,2,3,4,5,6,7,8,9],"format":"~g","domain":false,"ticks":true,"tickSize":5,"labelPadding":3,"titlePadding":2,"labelOverlap":false,"tickCount":20}}}},
  {"mark":{"type":"point","shape":"diamond","filled":true,"size":32,"color":"#333333","opacity":1},"encoding":{"y":{"field":"y","type":"quantitative","title":"BOLD Difference","axis":{"values":[-1,0,1,2,3,4,5,6,7,8,9],"format":"~g","domain":false,"ticks":true,"tickSize":5,"labelPadding":3,"titlePadding":2,"labelOverlap":false,"tickCount":20}}}},
  {"mark":{"type":"text","text":"Ant","fontWeight":"bold","fontSize":11,"color":"#222"},"encoding":{"x":{"datum":12.6},"y":{"datum":8.5}}},
  {"mark":{"type":"text","text":"Cingulate","fontWeight":"bold","fontSize":11,"color":"#222"},"encoding":{"x":{"datum":12.7},"y":{"datum":7.94}}}
 ]},
{"width":325,"height":230,"title":{"text":"F"},"data":{"name":"F"},
 "encoding":{"x":{"field":"t","type":"quantitative","scale":{"domain":[0,124.6],"nice":false},"axis":{"values":[0,20,40,60,80,100,120],"format":"d","offset":-46,"ticks":false,"tickSize":0,"labelPadding":12,"title":"Time (sec)","titleY":58,"tickCount":20}}},
 "layer":[
  {"data":{"name":"evF"},"mark":{"type":"rule","color":"#7a7a7a","strokeWidth":3.6},"encoding":{}},
  {"data":{"name":"evF"},"mark":{"type":"rule","color":"#ffffff","strokeWidth":1.2},"encoding":{}},
  {"mark":{"type":"errorbar","color":"#999999","thickness":1,"ticks":{"size":4}},"encoding":{"y":{"field":"y","type":"quantitative","title":"BOLD Difference","scale":{"domain":[-1,4],"nice":false,"zero":false},"axis":{"values":[-1,-0.5,0,0.5,1,1.5,2,2.5,3,3.5,4],"format":"~g","domain":false,"ticks":true,"tickSize":5,"labelPadding":3,"titlePadding":2,"labelOverlap":false,"tickCount":20}},"yError":{"field":"e"}}},
  {"mark":{"type":"line","color":"#333333","strokeWidth":2,"interpolate":"monotone"},"encoding":{"y":{"field":"m","type":"quantitative","title":"BOLD Difference","axis":{"values":[-1,-0.5,0,0.5,1,1.5,2,2.5,3,3.5,4],"format":"~g","domain":false,"ticks":true,"tickSize":5,"labelPadding":3,"titlePadding":2,"labelOverlap":false,"tickCount":20}}}},
  {"mark":{"type":"point","shape":"diamond","filled":true,"size":32,"color":"#333333","opacity":1},"encoding":{"y":{"field":"y","type":"quantitative","title":"BOLD Difference","axis":{"values":[-1,-0.5,0,0.5,1,1.5,2,2.5,3,3.5,4],"format":"~g","domain":false,"ticks":true,"tickSize":5,"labelPadding":3,"titlePadding":2,"labelOverlap":false,"tickCount":20}}}},
  {"mark":{"type":"text","text":"Caudate","fontWeight":"bold","fontSize":11,"color":"#222"},"encoding":{"x":{"datum":16.8},"y":{"datum":3.72}}},
  {"mark":{"type":"text","text":"r","fontStyle":"italic","fontWeight":"bold","fontSize":11,"align":"right","dx":-2,"color":"#222"},"encoding":{"x":{"datum":10.2},"y":{"datum":3.43}}},
  {"mark":{"type":"text","text":"= .759","fontWeight":"bold","fontSize":11,"align":"left","dx":2,"color":"#222"},"encoding":{"x":{"datum":10.2},"y":{"datum":3.43}}}
 ]}
]
}
